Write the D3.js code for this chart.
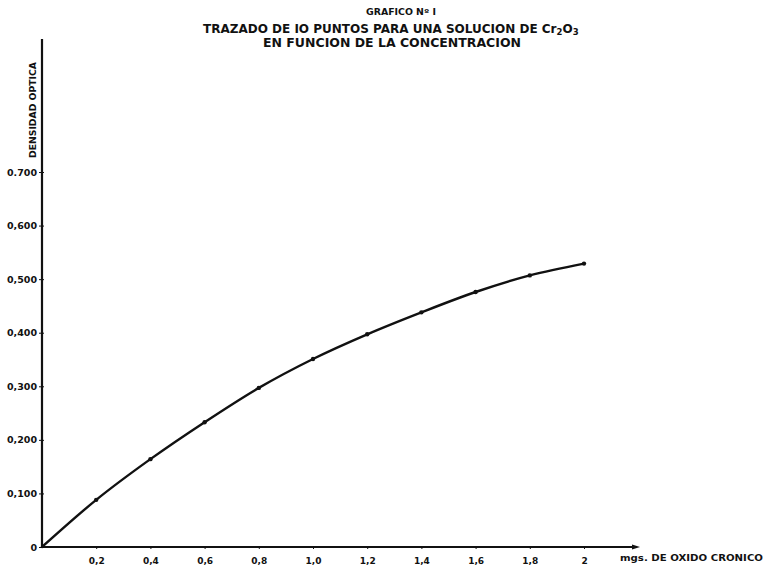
<!DOCTYPE html>
<html lang="es">
<head>
<meta charset="UTF-8">
<title>Grafico No 1</title>
<script src="https://d3js.org/d3.v7.min.js"></script>
<style>
html, body { margin: 0; padding: 0; background: #fff; }
svg { display: block; }
text { font-family: 'DejaVu Sans', sans-serif; font-weight: bold; fill: #111; }
.axis path, .axis line { stroke: #111; }
</style>
</head>
<body>
<svg id="canvas"></svg>
<script>
// concentracion (mg) y densidad optica
let conc = [0, 0.2, 0.4, 0.6, 0.8, 1.0, 1.2, 1.4, 1.6, 1.8, 2.0]
let dens = [0, 0.088, 0.164, 0.233, 0.297, 0.351, 0.397, 0.438, 0.476, 0.507, 0.529]

let xTicks = [0.2, 0.4, 0.6, 0.8, 1.0, 1.2, 1.4, 1.6, 1.8, 2.0]
let xTickLabels = ['0,2', '0,4', '0,6', '0,8', '1,0', '1,2', '1,4', '1,6', '1,8', '2']
let yTicks = [0, 0.1, 0.2, 0.3, 0.4, 0.5, 0.6, 0.7]
let yTickLabels = ['0', '0,100', '0,200', '0,300', '0,400', '0,500', '0,600', '0.700']

let width = 763
let height = 567
let left = 42
let bottom = 547

let svg = d3.select('svg')
    .attr('width', width)
    .attr('height', height)

let xScale = d3.scaleLinear().domain([0, 2]).range([left, 584])
let yScale = d3.scaleLinear().domain([0, 0.7]).range([bottom, 172])

// titulos
svg.append('text')
    .attr('x', 366).attr('y', 15)
    .attr('textLength', 70).attr('lengthAdjust', 'spacingAndGlyphs')
    .style('font-size', '8px')
    .text('GRAFICO Nº I')

let t1 = svg.append('text')
    .attr('x', 203).attr('y', 33)
    .style('font-size', '12px')
t1.append('tspan').text('TRAZADO DE IO PUNTOS PARA UNA SOLUCION DE Cr')
t1.append('tspan').attr('dy', 2).style('font-size', '8.5px').text('2')
t1.append('tspan').attr('dy', -2).text('O')
t1.append('tspan').attr('dy', 2).style('font-size', '8.5px').text('3')

svg.append('text')
    .attr('x', 263).attr('y', 47)
    .attr('textLength', 258).attr('lengthAdjust', 'spacingAndGlyphs')
    .style('font-size', '12px')
    .text('EN FUNCION DE LA CONCENTRACION')

// ejes
let xAxis = d3.axisBottom(xScale)
    .tickValues(xTicks)
    .tickSize(2)
    .tickPadding(9)
    .tickFormat((d, i) => xTickLabels[i])

let yAxis = d3.axisLeft(yScale)
    .tickValues(yTicks)
    .tickSize(3)
    .tickPadding(2)
    .tickFormat((d, i) => yTickLabels[i])

let gx = svg.append('g')
    .attr('class', 'axis')
    .attr('transform', 'translate(0,' + bottom + ')')
    .call(xAxis)
gx.select('.domain').remove()
gx.selectAll('text').style('font-size', '9px').style('font-family', 'DejaVu Sans').style('font-weight', 'bold')

svg.append('line')
    .attr('x1', left).attr('y1', bottom)
    .attr('x2', 636).attr('y2', bottom)
    .attr('stroke', '#111').attr('stroke-width', 2.2)
svg.append('path')
    .attr('d', 'M632,' + (bottom - 2.5) + 'L640,' + bottom + 'L632,' + (bottom + 2.5) + 'Z')
    .attr('fill', '#111')

let gy = svg.append('g')
    .attr('class', 'axis')
    .attr('transform', 'translate(' + left + ',0)')
    .call(yAxis)
gy.select('.domain').remove()
gy.selectAll('text').style('font-size', '9.5px').style('font-family', 'DejaVu Sans').style('font-weight', 'bold')
gy.selectAll('.tick line').attr('x2', 2).attr('x1', -3)

svg.append('line')
    .attr('x1', left).attr('y1', 39)
    .attr('x2', left).attr('y2', bottom + 1)
    .attr('stroke', '#111').attr('stroke-width', 2.2)

svg.append('text')
    .attr('transform', 'translate(36,110) rotate(-90)')
    .attr('text-anchor', 'middle')
    .attr('textLength', 96).attr('lengthAdjust', 'spacingAndGlyphs')
    .style('font-size', '8px')
    .text('DENSIDAD OPTICA')

svg.append('text')
    .attr('x', 620).attr('y', 561)
    .attr('textLength', 143).attr('lengthAdjust', 'spacingAndGlyphs')
    .style('font-size', '9.5px')
    .text('mgs. DE OXIDO CRONICO')

// curva
let points = conc.map((c, i) => [c, dens[i]])

let line = d3.line()
    .x(d => xScale(d[0]))
    .y(d => yScale(d[1]))
    .curve(d3.curveMonotoneX)

svg.append('path')
    .datum(points)
    .attr('d', line)
    .attr('fill', 'none')
    .attr('stroke', '#111')
    .attr('stroke-width', 2.4)
    .attr('stroke-linecap', 'round')

svg.selectAll('.pt')
    .data(points.slice(1))
    .enter()
    .append('circle')
    .attr('class', 'pt')
    .attr('cx', d => xScale(d[0]))
    .attr('cy', d => yScale(d[1]))
    .attr('r', 2.2)
    .attr('fill', '#111')
</script>
</body>
</html>
